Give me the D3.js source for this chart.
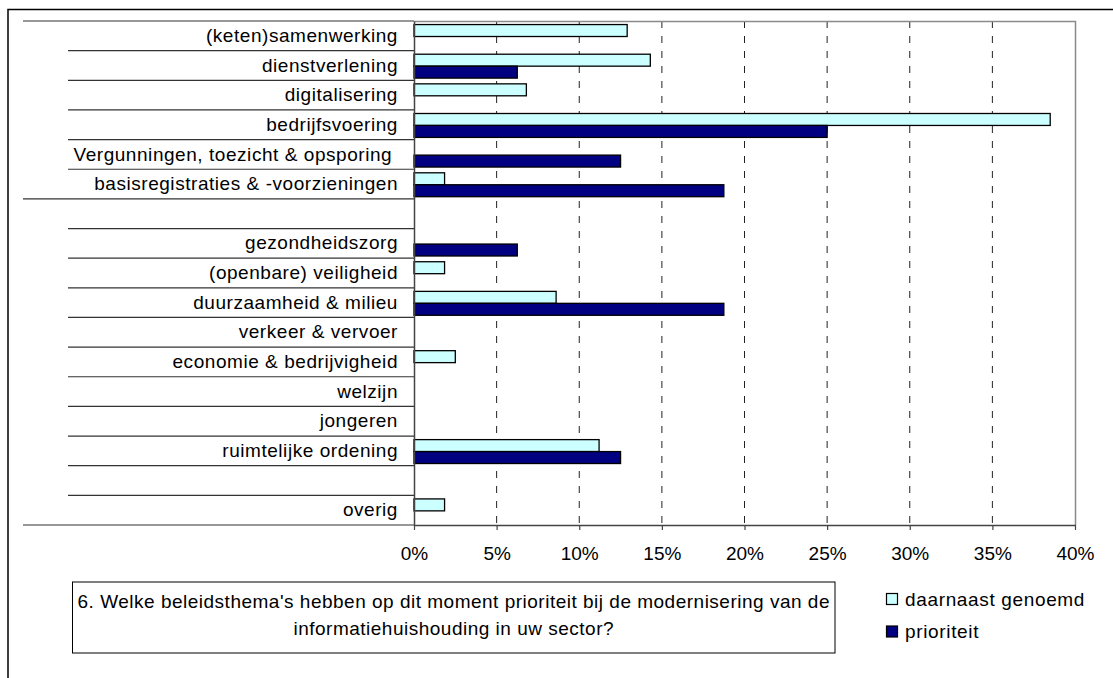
<!DOCTYPE html>
<html>
<head>
<meta charset="utf-8">
<script src="https://cdn.jsdelivr.net/npm/d3@7"></script>
<style>
  html, body { margin: 0; padding: 0; background: #fff; }
  svg { display: block; }
  text { font-family: "Liberation Sans", Arial, sans-serif; fill: #000; white-space: pre; }
</style>
</head>
<body>
<svg id="chart" width="1113" height="678"></svg>
<script>
// Policy themes (empty strings are spacer rows between the two groups)
const categories = [
  "(keten)samenwerking",
  "dienstverlening",
  "digitalisering",
  "bedrijfsvoering",
  "Vergunningen, toezicht & opsporing ",
  "basisregistraties & -voorzieningen",
  "",
  "gezondheidszorg",
  "(openbare) veiligheid",
  "duurzaamheid & milieu",
  "verkeer & vervoer",
  "economie & bedrijvigheid",
  "welzijn",
  "jongeren",
  "ruimtelijke ordening",
  "",
  "overig"
];

// Percentages per theme
const daarnaastGenoemd = [12.9, 14.3, 6.8, 38.5, 0, 1.85, 0, 0, 1.85, 8.6, 0, 2.5, 0, 0, 11.2, 0, 1.85];
const prioriteit       = [0, 6.25, 0, 25, 12.5, 18.75, 0, 6.25, 0, 18.75, 0, 0, 0, 0, 12.5, 0, 0];

const seriesNames = ["daarnaast genoemd", "prioriteit"];
const seriesColors = ["#CCFFFF", "#000080"];

// Outer category groups: [first index, end index) of each block of rows
const outerGroups = [[0, 6], [6, 17]];

const xTicks = [0, 0.05, 0.10, 0.15, 0.20, 0.25, 0.30, 0.35, 0.40];

const question = [
  "6. Welke beleidsthema's hebben op dit moment prioriteit bij de modernisering van de",
  "informatiehuishouding in uw sector?"
];

const svg = d3.select("#chart");
const plot = { left: 414, right: 1075, top: 21, bottom: 525 };

// Outer chart frame
svg.append("path")
  .attr("d", `M8,678 V9.5 H1113`)
  .attr("fill", "none").attr("stroke", "#000").attr("stroke-width", 1.5);

const x = d3.scaleLinear().domain([0, 0.4]).range([plot.left, plot.right]);
const rows = categories.map((d, i) => i);
const y = d3.scaleBand().domain(rows).range([plot.top, plot.bottom]).paddingInner(0).paddingOuter(0);
const ySub = d3.scaleBand().domain(seriesNames).range([0, y.bandwidth()])
  .paddingInner(0).paddingOuter(0.24).align(0.62);

// Dashed vertical gridlines
svg.append("g").selectAll("line")
  .data(xTicks.slice(1, -1))
  .join("line")
  .attr("x1", d => x(d)).attr("x2", d => x(d))
  .attr("y1", plot.top).attr("y2", plot.bottom)
  .attr("stroke", "#222").attr("stroke-width", 1)
  .attr("stroke-dasharray", "7,8");

// Plot area border (top and right)
svg.append("path")
  .attr("d", `M${plot.left},${plot.top + 0.5} H${plot.right + 0.5} V${plot.bottom}`)
  .attr("fill", "none").attr("stroke", "#8a8a8a").attr("stroke-width", 1.5);

// Category separator lines: inner boundaries short, group boundaries long
const boundaries = d3.range(categories.length + 1);
const groupEdges = new Set(outerGroups.flat());
svg.append("g").selectAll("line")
  .data(boundaries)
  .join("line")
  .attr("x1", d => groupEdges.has(d) ? 23 : 68)
  .attr("x2", plot.left)
  .attr("y1", d => d < categories.length ? y(d) : plot.bottom)
  .attr("y2", d => d < categories.length ? y(d) : plot.bottom)
  .attr("stroke", "#333").attr("stroke-width", 1.2);

// Bars
const barData = [];
categories.forEach((c, i) => {
  [daarnaastGenoemd[i], prioriteit[i]].forEach((v, s) => {
    if (v > 0) barData.push({ row: i, series: seriesNames[s], color: seriesColors[s], value: v / 100 });
  });
});
svg.append("g").selectAll("rect")
  .data(barData)
  .join("rect")
  .attr("x", x(0))
  .attr("y", d => y(d.row) + ySub(d.series))
  .attr("width", d => x(d.value) - x(0))
  .attr("height", ySub.bandwidth())
  .attr("fill", d => d.color)
  .attr("stroke", "#000").attr("stroke-width", 1.3);

// X axis
const xAxis = d3.axisBottom(x).tickValues(xTicks).tickFormat(d3.format(".0%"))
  .tickSize(5).tickSizeOuter(0).tickPadding(17);
const gx = svg.append("g").attr("transform", `translate(0,${plot.bottom})`).call(xAxis);
gx.select(".domain").attr("stroke", "#444").attr("stroke-width", 1.5);
gx.selectAll(".tick line").attr("stroke", "#444").attr("stroke-width", 1.2);
gx.selectAll(".tick text").attr("font-size", 19).attr("font-family", "Liberation Sans, Arial, sans-serif").attr("fill", "#000");

// Y axis with category labels
const yAxis = d3.axisLeft(y).tickSize(0).tickPadding(16).tickFormat(i => categories[i]);
const gy = svg.append("g").attr("transform", `translate(${plot.left},0)`).call(yAxis);
gy.select(".domain").attr("stroke", "#444").attr("stroke-width", 1.5);
gy.selectAll(".tick text")
  .attr("font-size", 19).attr("font-family", "Liberation Sans, Arial, sans-serif")
  .attr("letter-spacing", "0.55px").attr("fill", "#000");

// Question box
const box = { x: 72.5, y: 582, w: 762.5, h: 71 };
svg.append("rect")
  .attr("x", box.x).attr("y", box.y).attr("width", box.w).attr("height", box.h)
  .attr("fill", "#fff").attr("stroke", "#000").attr("stroke-width", 1);
svg.append("g").selectAll("text")
  .data(question)
  .join("text")
  .attr("x", box.x + box.w / 2)
  .attr("y", (d, i) => 608 + i * 27)
  .attr("text-anchor", "middle")
  .attr("font-size", 19)
  .attr("letter-spacing", "0.5px")
  .text(d => d);

// Legend
const legend = svg.append("g").attr("transform", "translate(886,593)");
const items = legend.selectAll("g")
  .data(seriesNames)
  .join("g")
  .attr("transform", (d, i) => `translate(0,${i * 32.5})`);
items.append("rect")
  .attr("x", 0.5).attr("y", 0.5).attr("width", 11).attr("height", 11)
  .attr("fill", (d, i) => seriesColors[i])
  .attr("stroke", "#000").attr("stroke-width", 1.2);
items.append("text")
  .attr("x", 19).attr("y", 12.5)
  .attr("font-size", 19)
  .attr("letter-spacing", "0.65px")
  .text(d => d);
</script>
</body>
</html>
